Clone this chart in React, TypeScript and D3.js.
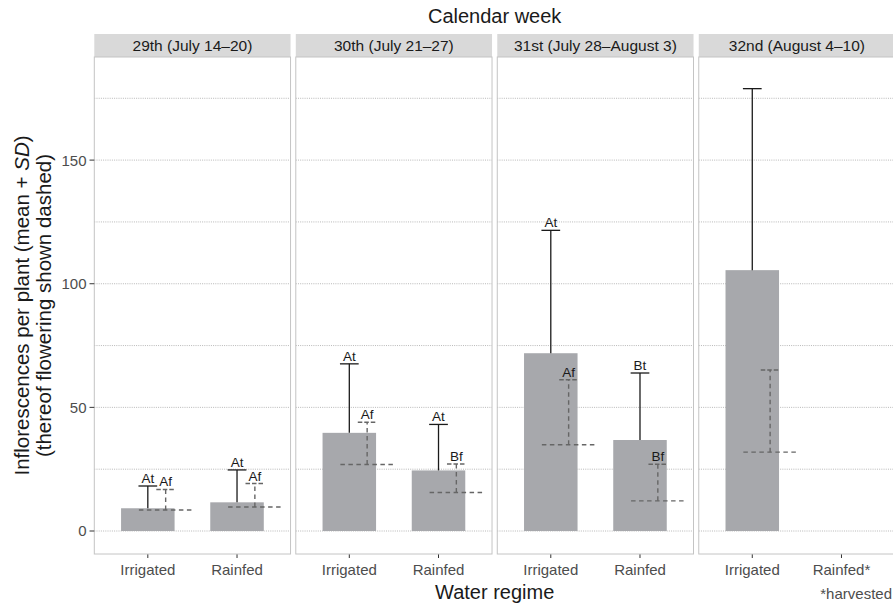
import React, { useRef, useEffect } from "react";
import * as d3 from "d3";

const weeks = ["29th (July 14–20)", "30th (July 21–27)", "31st (July 28–August 3)", "32nd (August 4–10)"];
const regimes = ["Irrigated", "Rainfed"];
const tickLabels = [
  ["Irrigated", "Rainfed"],
  ["Irrigated", "Rainfed"],
  ["Irrigated", "Rainfed"],
  ["Irrigated", "Rainfed*"],
];

// one entry per bar
const barWeek = [0, 0, 1, 1, 2, 2, 3];
const barRegime = ["Irrigated", "Rainfed", "Irrigated", "Rainfed", "Irrigated", "Rainfed", "Irrigated"];
const totalMean = [9.2, 11.6, 39.7, 24.5, 71.9, 36.8, 105.5];
const totalSD = [9.0, 13.1, 27.9, 18.6, 49.7, 27.1, 73.4];
const flowerMean = [8.5, 9.7, 26.9, 15.6, 34.9, 12.2, 31.9];
const flowerSD = [8.3, 9.5, 17.1, 11.5, 26.3, 14.8, 33.2];
const totalLetters = ["At", "At", "At", "At", "At", "Bt", ""];
const flowerLetters = ["Af", "Af", "Af", "Bf", "Af", "Bf", ""];

const yTicks = [0, 50, 100, 150];
const yGrid = [0, 25, 50, 75, 100, 125, 150, 175];

const FONT = "'Liberation Sans', Arial, Helvetica, sans-serif";

const Chart = () => {
  const ref = useRef<SVGSVGElement>(null);

  useEffect(() => {
    const svg = d3.select(ref.current);
    svg.selectAll("*").remove();

    const panelTop = 57;
    const panelBottom = 554;
    const stripTop = 34;

    const fx = d3.scaleBand<string>().domain(weeks).range([94.3, 895]).paddingInner(0.026);
    const bw = fx.bandwidth();
    const x = d3.scaleLinear().domain([0.4, 2.6]).range([0, bw]);
    const unit = x(1) - x(0);
    const y = d3.scaleLinear().domain([-9.3, 191.7]).range([panelBottom, panelTop]);

    const barW = 0.6 * unit;
    const capW = 0.21 * unit;
    const shift = 0.2 * unit;

    weeks.forEach((w, wi) => {
      const g = svg.append("g").attr("transform", `translate(${fx(w)},0)`);

      g.append("rect")
        .attr("x", 0).attr("y", panelTop)
        .attr("width", bw).attr("height", panelBottom - panelTop)
        .attr("fill", "white");

      g.selectAll(".grid")
        .data(yGrid)
        .enter()
        .append("line")
        .attr("x1", 0).attr("x2", bw)
        .attr("y1", d => y(d)).attr("y2", d => y(d))
        .attr("stroke", "#9a9a9a")
        .attr("stroke-width", 0.7)
        .attr("stroke-dasharray", "1,1.2");

      // strip
      g.append("rect")
        .attr("x", 0).attr("y", stripTop)
        .attr("width", bw).attr("height", panelTop - stripTop)
        .attr("fill", "#d9d9d9");
      g.append("text")
        .attr("x", bw / 2).attr("y", 51)
        .attr("text-anchor", "middle")
        .attr("font-size", 15.5)
        .attr("fill", "#1a1a1a")
        .text(w);

      // x ticks
      regimes.forEach((r, ri) => {
        g.append("line")
          .attr("x1", x(ri + 1)).attr("x2", x(ri + 1))
          .attr("y1", panelBottom).attr("y2", panelBottom + 4)
          .attr("stroke", "#333").attr("stroke-width", 1);
        g.append("text")
          .attr("x", x(ri + 1)).attr("y", 575)
          .attr("text-anchor", "middle")
          .attr("font-size", 15)
          .attr("fill", "#4d4d4d")
          .text(tickLabels[wi][ri]);
      });

      const idx = d3.range(barWeek.length).filter(i => barWeek[i] === wi);

      idx.forEach(i => {
        const cx = x(regimes.indexOf(barRegime[i]) + 1);
        const top = totalMean[i] + totalSD[i];
        const fcx = cx + shift;
        const ftop = flowerMean[i] + flowerSD[i];

        g.append("rect")
          .attr("x", cx - barW / 2).attr("y", y(totalMean[i]))
          .attr("width", barW).attr("height", y(0) - y(totalMean[i]))
          .attr("fill", "#a7a8ac");

        // total error bar
        g.append("line")
          .attr("x1", cx).attr("x2", cx)
          .attr("y1", y(totalMean[i])).attr("y2", y(top))
          .attr("stroke", "#1a1a1a").attr("stroke-width", 1.3);
        g.append("line")
          .attr("x1", cx - capW / 2).attr("x2", cx + capW / 2)
          .attr("y1", y(top)).attr("y2", y(top))
          .attr("stroke", "#1a1a1a").attr("stroke-width", 1.3);

        // flowering (dashed)
        const dash = { stroke: "#666", w: 1.4, d: "4.5,3.5" };
        g.append("line")
          .attr("x1", fcx - barW / 2).attr("x2", fcx + barW / 2)
          .attr("y1", y(flowerMean[i])).attr("y2", y(flowerMean[i]))
          .attr("stroke", dash.stroke).attr("stroke-width", dash.w).attr("stroke-dasharray", dash.d);
        g.append("line")
          .attr("x1", fcx).attr("x2", fcx)
          .attr("y1", y(flowerMean[i])).attr("y2", y(ftop))
          .attr("stroke", dash.stroke).attr("stroke-width", dash.w).attr("stroke-dasharray", dash.d);
        g.append("line")
          .attr("x1", fcx - capW / 2).attr("x2", fcx + capW / 2)
          .attr("y1", y(ftop)).attr("y2", y(ftop))
          .attr("stroke", dash.stroke).attr("stroke-width", dash.w).attr("stroke-dasharray", "4.5,2");

        g.append("text")
          .attr("x", cx).attr("y", y(top) - 3)
          .attr("text-anchor", "middle")
          .attr("font-size", 13.5)
          .attr("fill", "#1a1a1a")
          .text(totalLetters[i]);
        g.append("text")
          .attr("x", fcx).attr("y", y(ftop) - 3)
          .attr("text-anchor", "middle")
          .attr("font-size", 13.5)
          .attr("fill", "#1a1a1a")
          .text(flowerLetters[i]);
      });

      g.append("rect")
        .attr("x", 0).attr("y", panelTop)
        .attr("width", bw).attr("height", panelBottom - panelTop)
        .attr("fill", "none")
        .attr("stroke", "#c4c4c4").attr("stroke-width", 1);
    });

    // y axis
    const ya = svg.append("g");
    yTicks.forEach(t => {
      ya.append("line")
        .attr("x1", 89.5).attr("x2", 94.3)
        .attr("y1", y(t)).attr("y2", y(t))
        .attr("stroke", "#333").attr("stroke-width", 1);
      ya.append("text")
        .attr("x", 86.5).attr("y", y(t))
        .attr("dy", "0.36em")
        .attr("text-anchor", "end")
        .attr("font-size", 15)
        .attr("fill", "#4d4d4d")
        .text(t);
    });

    const midX = (94.3 + 895) / 2;
    const midY = (panelTop + panelBottom) / 2;

    svg.append("text")
      .attr("x", midX).attr("y", 23)
      .attr("text-anchor", "middle")
      .attr("font-size", 20)
      .attr("fill", "#1a1a1a")
      .text("Calendar week");

    svg.append("text")
      .attr("x", midX).attr("y", 599)
      .attr("text-anchor", "middle")
      .attr("font-size", 20)
      .attr("fill", "#1a1a1a")
      .text("Water regime");

    const t1 = svg.append("text")
      .attr("transform", `translate(29,${midY}) rotate(-90)`)
      .attr("text-anchor", "middle")
      .attr("font-size", 20.5)
      .attr("fill", "#1a1a1a");
    t1.append("tspan").text("Inflorescences per plant (mean + ");
    t1.append("tspan").attr("font-style", "italic").text("SD");
    t1.append("tspan").text(")");

    svg.append("text")
      .attr("transform", `translate(51,${midY}) rotate(-90)`)
      .attr("text-anchor", "middle")
      .attr("font-size", 20.5)
      .attr("fill", "#1a1a1a")
      .text("(thereof flowering shown dashed)");

    svg.append("text")
      .attr("x", 892).attr("y", 599)
      .attr("text-anchor", "end")
      .attr("font-size", 15)
      .attr("fill", "#4d4d4d")
      .text("*harvested");
  }, []);

  return (
    <svg
      ref={ref}
      width={893}
      height={606}
      style={{ position: "absolute", left: 0, top: 0, fontFamily: FONT, background: "white" }}
    />
  );
};

export default function App() {
  return <Chart />;
}
